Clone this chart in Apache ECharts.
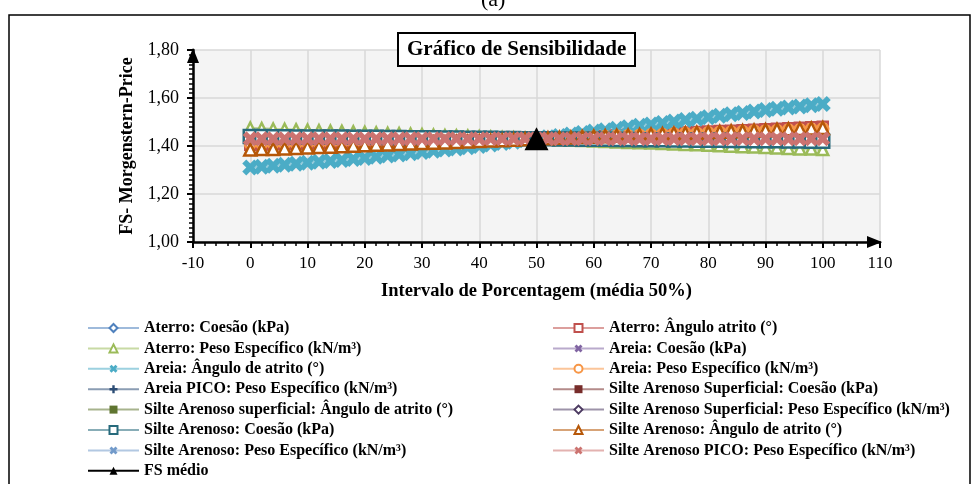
<!DOCTYPE html>
<html lang="pt">
<head>
<meta charset="UTF-8">
<title>Gráfico de Sensibilidade</title>
<script src="https://cdn.jsdelivr.net/npm/echarts@6/dist/echarts.min.js"></script>
<style>
  html, body { margin: 0; padding: 0; background: #fff; }
  #chart { width: 980px; height: 484px; }
</style>
</head>
<body>
<div id="chart"></div>
<script>
// intervalo de porcentagem (eixo x)
const xs = [0, 2, 4, 6, 8, 10, 12, 14, 16, 18, 20, 22, 24, 26, 28, 30, 32, 34, 36, 38, 40,
  42, 44, 46, 48, 50, 52, 54, 56, 58, 60, 62, 64, 66, 68, 70, 72, 74, 76, 78, 80,
  82, 84, 86, 88, 90, 92, 94, 96, 98, 100];

const yTicks = [1.0, 1.2, 1.4, 1.6, 1.8];

// parametros sem variacao visivel do FS
const fsFlat = [1.43, 1.43, 1.43, 1.43, 1.43, 1.43, 1.43, 1.43, 1.43, 1.43, 1.43,
  1.43, 1.43, 1.43, 1.43, 1.43, 1.43, 1.43, 1.43, 1.43, 1.43, 1.43, 1.43, 1.43, 1.43,
  1.43, 1.43, 1.43, 1.43, 1.43, 1.43, 1.43, 1.43, 1.43, 1.43, 1.43, 1.43, 1.43, 1.43,
  1.43, 1.43, 1.43, 1.43, 1.43, 1.43, 1.43, 1.43, 1.43, 1.43, 1.43, 1.43];

const aterroAngulo = [1.405, 1.406, 1.407, 1.408, 1.409, 1.410, 1.411, 1.412, 1.413, 1.414,
  1.415, 1.416, 1.417, 1.418, 1.419, 1.420, 1.421, 1.422, 1.423, 1.424, 1.425, 1.426,
  1.427, 1.428, 1.429, 1.430, 1.432, 1.434, 1.436, 1.438, 1.440, 1.442, 1.444, 1.446,
  1.448, 1.450, 1.452, 1.454, 1.456, 1.458, 1.460, 1.462, 1.464, 1.466, 1.468, 1.470,
  1.472, 1.474, 1.476, 1.478, 1.480];

const aterroPeso = [1.475, 1.473, 1.471, 1.470, 1.468, 1.466, 1.464, 1.462, 1.461, 1.459,
  1.457, 1.455, 1.453, 1.452, 1.450, 1.448, 1.446, 1.444, 1.443, 1.441, 1.439, 1.437,
  1.435, 1.434, 1.432, 1.430, 1.428, 1.426, 1.424, 1.423, 1.421, 1.419, 1.417, 1.415,
  1.414, 1.412, 1.410, 1.408, 1.406, 1.405, 1.403, 1.401, 1.399, 1.397, 1.396, 1.394,
  1.392, 1.390, 1.388, 1.387, 1.385];

const areiaAngulo = [1.310, 1.314, 1.318, 1.322, 1.326, 1.330, 1.334, 1.338, 1.342, 1.346,
  1.350, 1.355, 1.360, 1.365, 1.370, 1.375, 1.380, 1.385, 1.390, 1.395, 1.400, 1.406,
  1.412, 1.418, 1.424, 1.430, 1.436, 1.442, 1.448, 1.454, 1.460, 1.466, 1.472, 1.478,
  1.484, 1.490, 1.496, 1.502, 1.508, 1.514, 1.520, 1.526, 1.532, 1.538, 1.544, 1.550,
  1.555, 1.560, 1.565, 1.570, 1.575];

const areiaPeso = [1.410, 1.411, 1.412, 1.412, 1.413, 1.414, 1.415, 1.416, 1.416, 1.417,
  1.418, 1.419, 1.420, 1.420, 1.421, 1.422, 1.423, 1.424, 1.424, 1.425, 1.426, 1.427,
  1.428, 1.428, 1.429, 1.430, 1.432, 1.433, 1.435, 1.437, 1.438, 1.440, 1.442, 1.443,
  1.445, 1.447, 1.448, 1.450, 1.452, 1.453, 1.455, 1.457, 1.458, 1.460, 1.462, 1.463,
  1.465, 1.467, 1.468, 1.470, 1.472];

const silteCoesao = [1.440, 1.440, 1.439, 1.439, 1.438, 1.438, 1.438, 1.437, 1.437, 1.436,
  1.436, 1.436, 1.435, 1.435, 1.434, 1.434, 1.434, 1.433, 1.433, 1.432, 1.432, 1.432,
  1.431, 1.431, 1.430, 1.430, 1.430, 1.429, 1.429, 1.428, 1.428, 1.428, 1.427, 1.427,
  1.426, 1.426, 1.426, 1.425, 1.425, 1.424, 1.424, 1.424, 1.423, 1.423, 1.422, 1.422,
  1.422, 1.421, 1.421, 1.420, 1.420];

const silteAngulo = [1.385, 1.387, 1.388, 1.390, 1.392, 1.394, 1.396, 1.397, 1.399, 1.401,
  1.403, 1.405, 1.406, 1.408, 1.410, 1.412, 1.414, 1.415, 1.417, 1.419, 1.421, 1.423,
  1.424, 1.426, 1.428, 1.430, 1.432, 1.434, 1.435, 1.437, 1.439, 1.441, 1.443, 1.444,
  1.446, 1.448, 1.450, 1.452, 1.453, 1.455, 1.457, 1.459, 1.461, 1.462, 1.464, 1.466,
  1.468, 1.470, 1.471, 1.473, 1.475];

const fsMedioX = [50];
const fsMedio = [1.43];

const X_PATH = 'path://M0,2.5 L2.5,0 L5,2.5 L7.5,0 L10,2.5 L7.5,5 L10,7.5 L7.5,10 L5,7.5 L2.5,10 L0,7.5 L2.5,5 Z';
const PLUS_PATH = 'path://M3.5,0 H6.5 V3.5 H10 V6.5 H6.5 V10 H3.5 V6.5 H0 V3.5 H3.5 Z';

const serif = '"Liberation Serif", "DejaVu Serif", serif';

function pairs(ys) {
  return ys.map((v, i) => [xs[i], v]);
}

function mk(name, color, ys, symbol, size, hollow) {
  return {
    name: name,
    type: 'line',
    data: pairs(ys),
    color: color,
    symbol: symbol,
    symbolSize: size,
    showAllSymbol: true,
    lineStyle: { color: color, width: 2.5, opacity: 0.55 },
    itemStyle: hollow
      ? { color: '#fff', borderColor: color, borderWidth: 2.5 }
      : { color: color, borderWidth: 0 },
    emphasis: { disabled: true }
  };
}

const series = [
  mk('Aterro: Coesão (kPa)', '#4F81BD', fsFlat, 'diamond', 11, true),
  mk('Aterro: Ângulo atrito (°)', '#C0504D', aterroAngulo, 'rect', 10, true),
  mk('Aterro: Peso Específico (kN/m³)', '#9BBB59', aterroPeso, 'triangle', 11, true),
  mk('Areia: Coesão (kPa)', '#8064A2', fsFlat, X_PATH, 11, false),
  mk('Areia: Ângulo de atrito (°)', '#4BACC6', areiaAngulo, X_PATH, 16, false),
  mk('Areia: Peso Específico (kN/m³)', '#F79646', areiaPeso, 'circle', 11, true),
  mk('Areia PICO: Peso Específico (kN/m³)', '#2C4D75', fsFlat, PLUS_PATH, 10, false),
  mk('Silte Arenoso Superficial: Coesão (kPa)', '#772C2A', fsFlat, 'rect', [9, 4], false),
  mk('Silte Arenoso superficial: Ângulo de atrito (°)', '#5F7530', fsFlat, 'rect', [11, 5], false),
  mk('Silte Arenoso Superficial: Peso Específico (kN/m³)', '#4D3B62', fsFlat, 'diamond', 11, true),
  mk('Silte Arenoso: Coesão (kPa)', '#276A7C', silteCoesao, 'rect', 13, true),
  mk('Silte Arenoso: Ângulo de atrito (°)', '#B65708', silteAngulo, 'triangle', 12, true),
  mk('Silte Arenoso: Peso Específico (kN/m³)', '#729ACA', fsFlat, X_PATH, 11, false),
  mk('Silte Arenoso PICO: Peso Específico (kN/m³)', '#CC7370', fsFlat, X_PATH, 15, false),
  {
    name: 'FS médio',
    type: 'line',
    data: fsMedio.map((v, i) => [fsMedioX[i], v]),
    color: '#000',
    symbol: 'triangle',
    symbolSize: [24, 23],
    lineStyle: { color: '#000', width: 2.5 },
    itemStyle: { color: '#000' },
    z: 5,
    emphasis: { disabled: true }
  }
];

const legendLeft = [
  'Aterro: Coesão (kPa)',
  'Aterro: Peso Específico (kN/m³)',
  'Areia: Ângulo de atrito (°)',
  'Areia PICO: Peso Específico (kN/m³)',
  'Silte Arenoso superficial: Ângulo de atrito (°)',
  'Silte Arenoso: Coesão (kPa)',
  'Silte Arenoso: Peso Específico (kN/m³)',
  'FS médio'
];
const legendRight = [
  'Aterro: Ângulo atrito (°)',
  'Areia: Coesão (kPa)',
  'Areia: Peso Específico (kN/m³)',
  'Silte Arenoso Superficial: Coesão (kPa)',
  'Silte Arenoso Superficial: Peso Específico (kN/m³)',
  'Silte Arenoso: Ângulo de atrito (°)',
  'Silte Arenoso PICO: Peso Específico (kN/m³)'
];

function legendAt(left, names) {
  return {
    data: names,
    orient: 'vertical',
    left: left,
    top: 320,
    padding: 0,
    itemWidth: 51,
    itemHeight: 10,
    itemGap: 4.4,
    selectedMode: false,
    textStyle: { fontFamily: serif, fontWeight: 'bold', fontSize: 16, color: '#000', lineHeight: 16 }
  };
}

const chart = echarts.init(document.getElementById('chart'));
chart.setOption({
  animation: false,
  backgroundColor: '#fff',
  title: {
    text: 'Gráfico de Sensibilidade',
    left: 398,
    top: 33,
    padding: [6, 9],
    borderColor: '#000',
    borderWidth: 2,
    backgroundColor: '#fff',
    textStyle: { fontFamily: serif, fontWeight: 'bold', fontSize: 21, color: '#000' },
    z: 10
  },
  graphic: [
    {
      type: 'rect',
      shape: { x: 9, y: 15, width: 961, height: 480 },
      style: { fill: 'none', stroke: '#000', lineWidth: 1.5 },
      silent: true
    },
    {
      type: 'text',
      left: 481,
      top: -11,
      style: { text: '(a)', fontFamily: serif, fontSize: 22, fill: '#000' },
      silent: true
    }
  ],
  legend: [legendAt(87, legendLeft), legendAt(552, legendRight)],
  grid: {
    left: 193,
    right: 100,
    top: 50,
    bottom: 242,
    show: true,
    backgroundColor: '#F4F4F4',
    borderWidth: 0
  },
  xAxis: {
    type: 'value',
    min: -10,
    max: 110,
    interval: 10,
    name: 'Intervalo de Porcentagem (média 50%)',
    nameLocation: 'middle',
    nameGap: 40,
    nameTextStyle: { fontFamily: serif, fontWeight: 'bold', fontSize: 18.5, color: '#000' },
    axisLine: {
      onZero: false,
      symbol: ['none', 'triangle'],
      symbolSize: [12, 15],
      symbolOffset: [0, -5.5],
      lineStyle: { color: '#000', width: 2.5 }
    },
    axisTick: { length: 6, lineStyle: { color: '#000', width: 2 } },
    minorTick: { show: true, splitNumber: 5, length: 4, lineStyle: { color: '#000', width: 1.5 } },
    axisLabel: { margin: 13, fontFamily: serif, fontSize: 17, color: '#000' },
    splitLine: { show: true, lineStyle: { color: '#D9D9D9', width: 1.5 } }
  },
  yAxis: {
    type: 'value',
    min: yTicks[0],
    max: yTicks[yTicks.length - 1],
    interval: 0.2,
    name: 'FS- Morgenstern-Price',
    nameLocation: 'middle',
    nameGap: 54,
    nameTextStyle: { fontFamily: serif, fontWeight: 'bold', fontSize: 18, color: '#000' },
    axisLine: {
      show: true,
      onZero: false,
      symbol: ['none', 'triangle'],
      symbolSize: [12, 15],
      symbolOffset: [0, -5.5],
      lineStyle: { color: '#000', width: 2.5 }
    },
    axisTick: { show: true, length: 6, lineStyle: { color: '#000', width: 2 } },
    minorTick: { show: true, splitNumber: 10, length: 4, lineStyle: { color: '#000', width: 1.5 } },
    axisLabel: {
      margin: 14,
      fontFamily: serif,
      fontSize: 18,
      color: '#000',
      formatter: v => v.toFixed(2).replace('.', ',')
    },
    splitLine: { show: true, lineStyle: { color: '#D9D9D9', width: 1.5 } }
  },
  series: series
});
</script>
</body>
</html>
